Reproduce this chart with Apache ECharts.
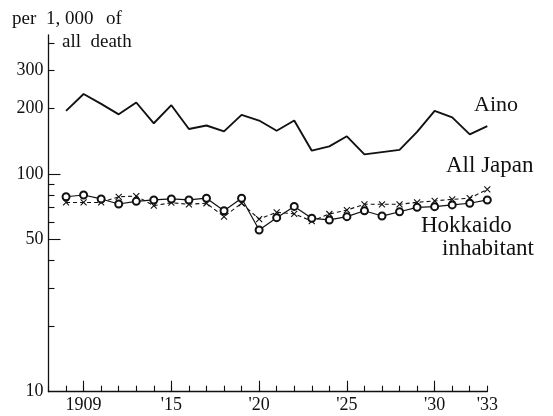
<!DOCTYPE html>
<html lang="en">
<head>
    <meta charset="UTF-8">
    <title>Death rate per 1,000 of all death</title>
    <script src="https://cdn.jsdelivr.net/npm/echarts@6.0.0/dist/echarts.min.js"></script>
    <style>
        html, body { margin: 0; padding: 0; background: #fff; }
        #chart { width: 553px; height: 416px; }
    </style>
</head>
<body>
    <div id="chart"></div>
    <script>
        // data (per 1,000 of all death)
        const years = [1909, 1910, 1911, 1912, 1913, 1914, 1915, 1916, 1917, 1918, 1919, 1920, 1921,
                       1922, 1923, 1924, 1925, 1926, 1927, 1928, 1929, 1930, 1931, 1932, 1933]
        const aino = [195, 233, 210, 188, 213, 171, 207, 161, 167, 157, 187, 176, 158,
                      176, 128, 134, 149, 123, 126, 129, 156, 195, 182, 152, 166]
        const allJapan = [74, 74, 74, 78.6, 79.2, 71.5, 73.8, 72.6, 73.4, 63.7, 73.4, 62.1, 66.7,
                          65.6, 60.8, 65.5, 68.3, 72.6, 72.6, 72.6, 74.1, 75.2, 76.5, 77.4, 85]
        const hokkaido = [78.6, 80.1, 76.8, 72.8, 74.9, 76, 76.8, 76, 77.4, 67.8, 77.4, 55.3, 63,
                          71, 62.6, 61.5, 63.7, 67.8, 64.1, 67.1, 70.3, 70.8, 72.1, 73.4, 76]

        // axis ticks and labels
        const xLabelYears = [1910, 1915, 1920, 1925, 1930, 1933]
        const xLabelTexts = ["1909", "'15", "'20", "'25", "'30", "'33"]
        const xLongTicks = [1910, 1915, 1920, 1925, 1930]
        const yLabels = [10, 50, 100, 200, 300]
        const yShortTicks = [20, 30, 40, 60, 70, 80, 90, 200, 300, 400]
        const yLongTicks = [50, 100]

        const font = '"Liberation Serif", "Times New Roman", serif'
        const ink = '#111'

        const pairs = vals => years.map((y, i) => [y, vals[i]])

        const xBase = {
            type: 'value', min: 1908, max: 1933, interval: 1,
            position: 'bottom', gridIndex: 0,
            splitLine: { show: false }
        }
        const yBase = {
            type: 'log', logBase: 10, min: 10, max: 435,
            position: 'left', gridIndex: 0,
            splitLine: { show: false }
        }

        const txt = (x, y, text, size) => ({
            type: 'text',
            style: { x: x, y: y, text: text, font: size + 'px ' + font, fill: ink, verticalAlign: 'middle' }
        })

        const chart = echarts.init(document.getElementById('chart'), null, { renderer: 'canvas' })
        chart.setOption({
            animation: false,
            backgroundColor: '#fff',
            grid: { left: 48.5, right: 65.7, top: 35, bottom: 24.3 },
            xAxis: [
                Object.assign({}, xBase, {
                    axisLine: { onZero: false, lineStyle: { color: ink, width: 1.3 } },
                    axisTick: { inside: true, length: 6, lineStyle: { color: ink, width: 1.1 } },
                    axisLabel: { show: false }
                }),
                Object.assign({}, xBase, {
                    axisLine: { show: false, onZero: false },
                    axisTick: { show: true, inside: true, length: 11, customValues: xLongTicks,
                                lineStyle: { color: ink, width: 1.1 } },
                    axisLabel: {
                        customValues: xLabelYears, margin: 5,
                        color: ink, fontFamily: font, fontSize: 18,
                        formatter: v => xLabelTexts[xLabelYears.indexOf(Math.round(v))] || ''
                    }
                })
            ],
            yAxis: [
                Object.assign({}, yBase, {
                    axisLine: { onZero: false, lineStyle: { color: ink, width: 1.3 } },
                    axisTick: { inside: true, length: 6, customValues: yShortTicks,
                                lineStyle: { color: ink, width: 1.1 } },
                    axisLabel: {
                        customValues: yLabels, margin: 5,
                        color: ink, fontFamily: font, fontSize: 18
                    }
                }),
                Object.assign({}, yBase, {
                    axisLine: { show: false, onZero: false },
                    axisTick: { show: true, inside: true, length: 12, customValues: yLongTicks,
                                lineStyle: { color: ink, width: 1.1 } },
                    axisLabel: { show: false }
                })
            ],
            series: [
                {
                    name: 'Aino', type: 'line', data: pairs(aino),
                    showSymbol: false, symbol: 'none',
                    lineStyle: { color: ink, width: 1.9 }
                },
                {
                    name: 'All Japan', type: 'line', data: pairs(allJapan),
                    symbol: 'path://M0,0L10,10M10,0L0,10', symbolSize: 6,
                    itemStyle: { color: '#fff', borderColor: ink, borderWidth: 1.1 },
                    lineStyle: { color: ink, width: 1.1, type: [4, 3] }
                },
                {
                    name: 'Hokkaido inhabitant', type: 'line', data: pairs(hokkaido),
                    symbol: 'emptyCircle', symbolSize: 7,
                    itemStyle: { color: ink, borderWidth: 1 },
                    lineStyle: { color: ink, width: 1.2 }
                }
            ],
            graphic: [
                txt(12, 19, 'per', 19),
                txt(46, 19, '1, 000', 19),
                txt(106, 19, 'of', 19),
                txt(62, 42, 'all  death', 19),
                txt(474, 105, 'Aino', 22),
                txt(446, 166, 'All Japan', 23),
                txt(421, 226, 'Hokkaido', 23),
                txt(442, 249, 'inhabitant', 23)
            ]
        })
    </script>
</body>
</html>
